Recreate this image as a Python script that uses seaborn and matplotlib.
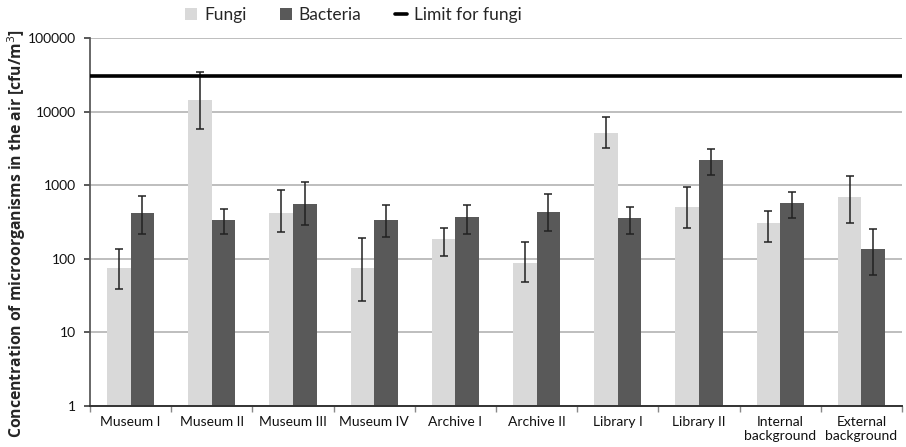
import numpy as np
import pandas as pd
import matplotlib
matplotlib.use("Agg")
import matplotlib.pyplot as plt
import seaborn as sns
from matplotlib.lines import Line2D
from matplotlib.patches import Patch
from matplotlib.ticker import FixedLocator, NullLocator

categories = ["Museum I", "Museum II", "Museum III", "Museum IV", "Archive I",
              "Archive II", "Library I", "Library II", "Internal\nbackground",
              "External\nbackground"]
fungi = [75, 14400, 420, 74, 188, 89, 5200, 510, 305, 700]
fungi_low = [39, 5800, 230, 27, 109, 49, 3200, 265, 167, 303]
fungi_high = [135, 34500, 860, 192, 265, 167, 8400, 945, 447, 1335]
bacteria = [420, 337, 550, 337, 375, 437, 355, 2200, 567, 138]
bacteria_low = [217, 217, 290, 200, 217, 239, 217, 1365, 353, 60]
bacteria_high = [715, 475, 1100, 535, 535, 767, 500, 3080, 815, 252]
limit_fungi = 30000
series = ["Fungi", "Bacteria"]
yticks = [1, 10, 100, 1000, 10000, 100000]

sns.set_theme(style="white")
plt.rcParams["font.family"] = ["Lato", "DejaVu Sans"]

df = pd.DataFrame({
    "category": categories * 2,
    "series": ["Fungi"] * len(categories) + ["Bacteria"] * len(categories),
    "value": fungi + bacteria,
})

colors = {"Fungi": "#d9d9d9", "Bacteria": "#595959"}

fig = plt.figure(figsize=(9.06, 4.47), dpi=100)
ax = fig.add_axes([0.0993, 0.0917, 0.8963, 0.8233])
ax.set_yscale("log")
sns.barplot(data=df, x="category", y="value", hue="series", hue_order=series,
            palette=colors, width=0.58, ax=ax, legend=False, errorbar=None,
            saturation=1, edgecolor="none")

lows = {"Fungi": fungi_low, "Bacteria": bacteria_low}
highs = {"Fungi": fungi_high, "Bacteria": bacteria_high}
vals = {"Fungi": fungi, "Bacteria": bacteria}
for cont, s in zip(ax.containers, series):
    xs = [p.get_x() + p.get_width() / 2 for p in cont.patches]
    v = np.array(vals[s], dtype=float)
    lo = v - np.array(lows[s], dtype=float)
    hi = np.array(highs[s], dtype=float) - v
    ax.errorbar(xs, v, yerr=[lo, hi], fmt="none", ecolor="#222222",
                elinewidth=1.1, capsize=3, capthick=1.1, zorder=4)

ax.axhline(limit_fungi, color="black", lw=2.6, zorder=5)

ax.set_ylim(1, 100000)
ax.set_xlim(-0.5, len(categories) - 0.5)
ax.yaxis.set_major_locator(FixedLocator(yticks))
ax.yaxis.set_minor_locator(NullLocator())
ax.set_yticklabels([str(t) for t in yticks])
ax.yaxis.grid(True, color="#b3b3b3", lw=1.2)
ax.set_axisbelow(True)
ax.xaxis.set_minor_locator(FixedLocator(np.arange(-0.5, len(categories), 1.0)))
ax.tick_params(axis="x", which="major", length=0, labelsize=10, pad=7, colors="#111111")
ax.tick_params(axis="x", which="minor", length=4, color="#888888", direction="out", bottom=True)
ax.tick_params(axis="y", which="major", length=4, labelsize=10, left=True, color="#444444",
               colors="#111111", pad=6)
for sp in ["top", "right"]:
    ax.spines[sp].set_visible(False)
ax.spines["left"].set_color("#555555")
ax.spines["bottom"].set_color("#333333")
ax.spines["bottom"].set_linewidth(1.4)
ax.set_xlabel("")
ax.set_ylabel("Concentration of microorganisms in the air [cfu/m$^3$]",
              fontsize=11.3, fontweight="bold", family=["Open Sans", "DejaVu Sans"])
ax.yaxis.set_label_coords(-0.076, 0.47)

handles = [Patch(facecolor=colors["Fungi"], edgecolor="none"),
           Patch(facecolor=colors["Bacteria"], edgecolor="none"),
           Line2D([0], [0], color="black", lw=2.6)]
fig.legend(handles, ["Fungi", "Bacteria", "Limit for fungi"], loc="upper center",
           bbox_to_anchor=(0.39, 1.02), ncol=3, frameon=False, fontsize=12.5,
           handlelength=0.7, handleheight=0.7, columnspacing=1.9, handletextpad=0.4)

fig.savefig("out.png", dpi=100)
